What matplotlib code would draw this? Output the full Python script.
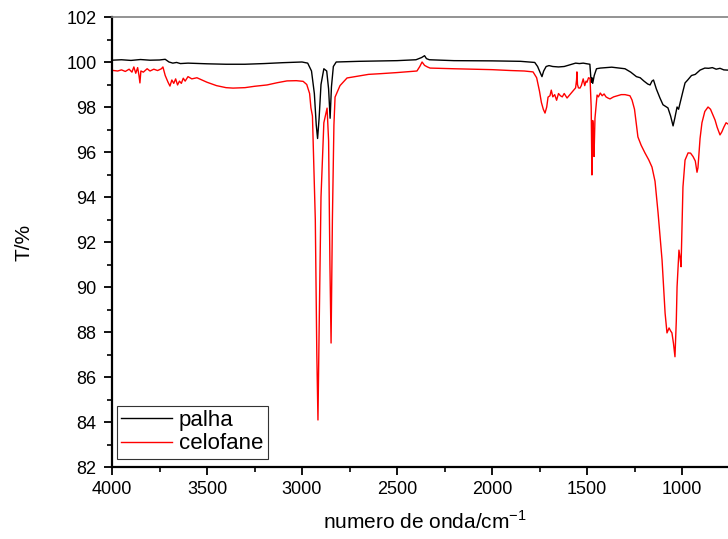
#!/usr/bin/env python3

import matplotlib
matplotlib.use("Agg")
import matplotlib.pyplot as plt
from matplotlib.ticker import MultipleLocator

plt.rcParams["font.family"] = ["Liberation Sans", "DejaVu Sans"]
plt.rcParams["mathtext.fontset"] = "custom"
plt.rcParams["mathtext.rm"] = "Liberation Sans"

# palha (black) spectrum
palha_wn = [4000, 3950, 3900, 3850, 3800, 3750, 3720, 3700, 3680, 3660,
            3640, 3600, 3500, 3400, 3300, 3200, 3100, 3000, 2970, 2950,
            2935, 2925, 2918, 2910, 2900, 2885, 2870, 2860, 2852, 2845,
            2835, 2820, 2700, 2500, 2400, 2370, 2355, 2345, 2330, 2200,
            2000, 1850, 1775, 1760, 1745, 1737, 1728, 1715, 1700, 1680,
            1650, 1620, 1600, 1580, 1560, 1540, 1520, 1500, 1485, 1478,
            1474, 1470, 1462, 1450, 1430, 1400, 1370, 1340, 1300, 1270,
            1240, 1220, 1200, 1180, 1168, 1158, 1150, 1135, 1116, 1100,
            1074, 1060, 1047, 1038, 1026, 1018, 1010, 995, 984, 970,
            950, 930, 905, 880, 860, 840, 820, 800, 780, 760, 740, 700]
palha_t = [100.08, 100.10, 100.07, 100.11, 100.08, 100.09, 100.12, 100.00, 99.95, 99.98,
           99.93, 99.95, 99.92, 99.90, 99.90, 99.93, 99.97, 100.00, 99.95, 99.60,
           98.60, 97.20, 96.60, 97.50, 99.00, 99.70, 99.60, 98.80, 97.50, 98.90,
           99.80, 100.00, 100.03, 100.06, 100.10, 100.20, 100.28, 100.15, 100.10, 100.06,
           100.05, 100.03, 99.98, 99.80, 99.50, 99.35, 99.60, 99.80, 99.84, 99.80,
           99.78, 99.80, 99.85, 99.90, 99.95, 99.93, 99.95, 99.92, 99.90, 99.10,
           99.30, 99.05, 99.40, 99.70, 99.73, 99.75, 99.77, 99.74, 99.70, 99.55,
           99.35, 99.30, 99.15, 99.02, 98.98, 99.15, 99.20, 98.80, 98.40, 98.10,
           97.96, 97.60, 97.16, 97.50, 98.00, 97.90, 98.18, 98.70, 99.07, 99.20,
           99.40, 99.45, 99.64, 99.73, 99.72, 99.75, 99.68, 99.72, 99.65, 99.64, 99.66, 99.65]

# celofane (red) spectrum
celofane_wn = [4000, 3970, 3950, 3930, 3910, 3895, 3885, 3875, 3865, 3858,
               3853, 3848, 3835, 3815, 3800, 3780, 3760, 3740, 3732, 3720,
               3705, 3695, 3685, 3675, 3665, 3655, 3645, 3635, 3625, 3615,
               3600, 3580, 3553, 3500, 3450, 3400, 3363, 3300, 3250, 3184,
               3130, 3079, 3030, 2994, 2975, 2960, 2953, 2945, 2930, 2922,
               2916, 2910, 2900, 2885, 2868, 2860, 2853, 2847, 2840, 2832,
               2826, 2800, 2763, 2700, 2650, 2589, 2500, 2420, 2395, 2380,
               2368, 2355, 2340, 2326, 2200, 2000, 1900, 1830, 1784, 1765,
               1750, 1740, 1730, 1721, 1712, 1705, 1695, 1688, 1680, 1670,
               1660, 1650, 1640, 1630, 1620, 1605, 1590, 1575, 1560, 1555,
               1553, 1550, 1545, 1537, 1530, 1520, 1512, 1505, 1500, 1492,
               1484, 1478, 1474, 1470, 1466, 1463, 1458, 1447, 1440, 1430,
               1420, 1410, 1400, 1390, 1379, 1360, 1340, 1320, 1300, 1290,
               1274, 1263, 1250, 1232, 1215, 1195, 1175, 1158, 1142, 1126,
               1105, 1089, 1079, 1068, 1060, 1053, 1045, 1037, 1030, 1026,
               1016, 1010, 1005, 995, 984, 968, 955, 942, 930, 921,
               916, 905, 895, 880, 863, 850, 835, 826, 815, 800,
               790, 780, 768, 750, 700]
celofane_t = [99.63, 99.60, 99.65, 99.58, 99.68, 99.55, 99.78, 99.50, 99.75, 99.40,
              99.07, 99.60, 99.55, 99.70, 99.60, 99.68, 99.62, 99.70, 99.78, 99.40,
              99.10, 98.93, 99.20, 99.05, 99.25, 98.98, 99.15, 99.05, 99.28, 99.15,
              99.35, 99.25, 99.30, 99.10, 98.95, 98.86, 98.84, 98.86, 98.92, 98.98,
              99.08, 99.16, 99.17, 99.14, 99.00, 98.60, 97.96, 97.60, 93.00, 87.00,
              84.09, 88.00, 94.00, 97.30, 97.95, 96.50, 91.00, 87.51, 93.00, 97.20,
              98.44, 98.95, 99.29, 99.38, 99.45, 99.48, 99.53, 99.58, 99.60, 99.80,
              100.00, 99.85, 99.78, 99.73, 99.70, 99.66, 99.62, 99.60, 99.56, 99.30,
              98.70, 98.20, 97.90, 97.73, 98.00, 98.44, 98.50, 98.75, 98.45, 98.55,
              98.30, 98.60, 98.50, 98.45, 98.60, 98.40, 98.55, 98.70, 98.85, 99.20,
              99.56, 99.00, 98.85, 98.84, 98.95, 99.25, 98.95, 99.15, 99.10, 99.30,
              99.27, 98.00, 94.98, 97.40, 97.00, 95.80, 97.50, 98.53, 98.45, 98.62,
              98.50, 98.58, 98.45, 98.40, 98.36, 98.45, 98.50, 98.55, 98.55, 98.53,
              98.50, 98.31, 97.90, 96.67, 96.30, 95.96, 95.65, 95.33, 94.70, 93.30,
              91.20, 88.84, 87.96, 88.18, 88.05, 87.96, 87.50, 86.90, 88.50, 90.00,
              91.64, 91.30, 90.90, 94.44, 95.64, 95.96, 95.95, 95.80, 95.60, 95.10,
              95.30, 96.60, 97.30, 97.80, 98.00, 97.90, 97.60, 97.42, 97.10, 96.76,
              96.90, 97.10, 97.30, 97.20, 97.00]

x_ticks = [4000, 3500, 3000, 2500, 2000, 1500, 1000]
y_ticks = [82, 84, 86, 88, 90, 92, 94, 96, 98, 100, 102]

fig = plt.figure(figsize=(7.28, 5.39), dpi=100)
ax = fig.add_axes([112 / 728, 72 / 539, 684 / 728, 450 / 539])

ax.plot(palha_wn, palha_t, color="black", lw=1.0, label="palha")
ax.plot(celofane_wn, celofane_t, color="red", lw=1.0, label="celofane")

ax.set_xlim(4000, 400)
ax.set_ylim(82, 102)
ax.set_xticks(x_ticks)
ax.set_yticks(y_ticks)
ax.xaxis.set_minor_locator(MultipleLocator(250))
ax.yaxis.set_minor_locator(MultipleLocator(1))

ax.tick_params(which="major", direction="out", length=6, width=1.3, labelsize=13)
ax.tick_params(which="minor", direction="out", length=3.5, width=1.2)
ax.tick_params(axis="y", pad=5)
ax.tick_params(axis="x", pad=4)
ax.tick_params(top=False, right=False, which="both")

for side in ["left", "bottom"]:
    ax.spines[side].set_linewidth(1.6)
ax.spines["top"].set_color("#808080")
ax.spines["top"].set_linewidth(1.2)
ax.spines["right"].set_visible(False)

ax.set_xlabel(r"numero de onda/cm$^{\mathregular{-1}}$", fontsize=15, labelpad=12)
ax.xaxis.set_label_coords(0.458, -0.095)
ax.set_ylabel("T/%", fontsize=15, labelpad=24)

leg = ax.legend(loc="lower left", bbox_to_anchor=(0.007, 0.018), borderaxespad=0,
                fontsize=16, fancybox=False, handlelength=2.3, handletextpad=0.3,
                labelspacing=0.1, borderpad=0.2, framealpha=1)
leg.get_frame().set_edgecolor("#333333")
leg.get_frame().set_linewidth(0.8)

fig.savefig("out.png", dpi=100)
